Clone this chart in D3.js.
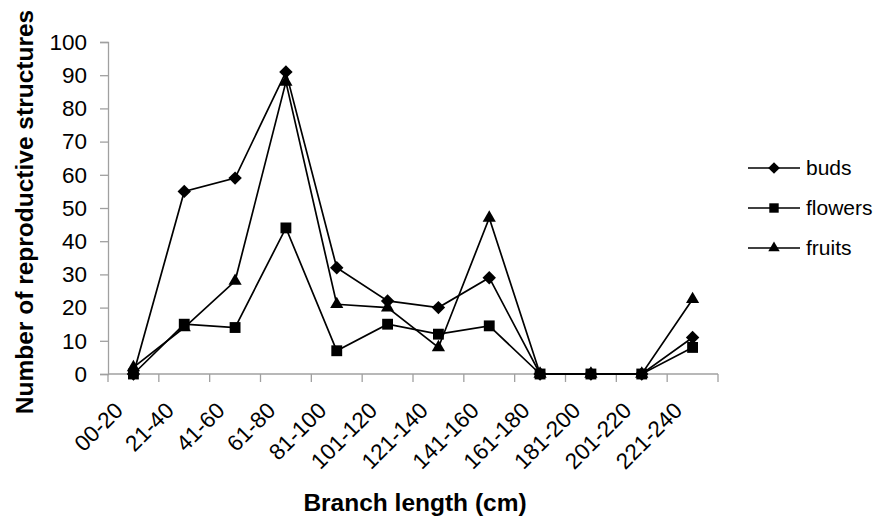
<!DOCTYPE html>
<html>
<head>
<meta charset="utf-8">
<script src="https://cdn.jsdelivr.net/npm/d3@7"></script>
<style>
  body { margin: 0; background: #fff; }
  text { font-family: "Liberation Sans", Arial, sans-serif; }
</style>
</head>
<body>
<div id="chart"></div>
<script>
// Data
const categories = ["00-20", "21-40", "41-60", "61-80", "81-100", "101-120", "121-140",
  "141-160", "161-180", "181-200", "201-220", "221-240"];
const buds = [0, 55, 59, 91, 32, 22, 20, 29, 0, 0, 0, 11];
const flowers = [0, 15, 14, 44, 7, 15, 12, 14.5, 0, 0, 0, 8];
const fruits = [2, 14, 28, 88, 21, 20, 8, 47, 0, 0, 0, 22.5];
const yTicks = [0, 10, 20, 30, 40, 50, 60, 70, 80, 90, 100];

const series = [
  { name: "buds", values: buds, symbol: d3.symbolDiamond2, size: 115 },
  { name: "flowers", values: flowers, symbol: d3.symbolSquare2, size: 150 },
  { name: "fruits", values: fruits, symbol: d3.symbolTriangle2, size: 125 }
];

const width = 881;
const height = 522;
const marginLeft = 108;
const marginRight = 163;
const marginTop = 42;
const marginBottom = 148;

const x = d3.scaleBand()
    .domain(categories)
    .range([marginLeft, width - marginRight]);

const y = d3.scaleLinear()
    .domain([0, 100])
    .range([height - marginBottom, marginTop]);

const svg = d3.select("#chart")
    .append("svg")
    .attr("width", width)
    .attr("height", height)
    .attr("viewBox", [0, 0, width, height]);

// y axis
const yAxis = svg.append("g")
    .attr("transform", `translate(${marginLeft},0)`)
    .call(d3.axisLeft(y).tickValues(yTicks).tickSize(8).tickPadding(13));
yAxis.selectAll("line, path").attr("stroke", "#a0a0a0").attr("stroke-width", 1.3);
yAxis.selectAll("text").attr("font-size", 22.5).attr("fill", "#000")
    .style("font-family", "Liberation Sans, Arial, sans-serif");

// x axis: ticks at category boundaries
const xAxis = svg.append("g")
    .attr("transform", `translate(0,${y(0)})`);
xAxis.append("line")
    .attr("x1", marginLeft).attr("x2", width - marginRight)
    .attr("stroke", "#a0a0a0").attr("stroke-width", 1.3);
xAxis.selectAll(".tk")
    .data(categories.concat([null]))
    .join("line")
    .attr("class", "tk")
    .attr("x1", (d, i) => marginLeft + i * x.bandwidth())
    .attr("x2", (d, i) => marginLeft + i * x.bandwidth())
    .attr("y1", 0).attr("y2", 8)
    .attr("stroke", "#a0a0a0").attr("stroke-width", 1.3);
xAxis.selectAll(".lbl")
    .data(categories)
    .join("text")
    .attr("class", "lbl")
    .attr("text-anchor", "end")
    .attr("font-size", 22.5)
    .attr("transform", d => `translate(${x(d) + x.bandwidth() / 2 - 9},${38}) rotate(-45)`)
    .text(d => d);

// lines and markers
const line = d3.line()
    .x((d, i) => x(categories[i]) + x.bandwidth() / 2)
    .y(d => y(d));

series.forEach(s => {
  svg.append("path")
      .attr("d", line(s.values))
      .attr("fill", "none")
      .attr("stroke", "#000")
      .attr("stroke-width", 1.7);
});

series.forEach(s => {
  svg.append("g").selectAll("path")
      .data(s.values)
      .join("path")
      .attr("d", d3.symbol().type(s.symbol).size(s.size))
      .attr("transform", (d, i) => `translate(${x(categories[i]) + x.bandwidth() / 2},${y(d)})`)
      .attr("fill", "#000");
});

// legend
const legend = svg.append("g");
series.forEach((s, i) => {
  const ly = 168 + i * 40;
  legend.append("line")
      .attr("x1", 748).attr("x2", 800)
      .attr("y1", ly).attr("y2", ly)
      .attr("stroke", "#000").attr("stroke-width", 1.7);
  legend.append("path")
      .attr("d", d3.symbol().type(s.symbol).size(s.size * 0.75))
      .attr("transform", `translate(774,${ly})`);
  legend.append("text")
      .attr("x", 806).attr("y", ly)
      .attr("dy", "0.35em")
      .attr("font-size", 21)
      .text(s.name);
});

// axis titles
svg.append("text")
    .attr("x", 415).attr("y", 511)
    .attr("text-anchor", "middle")
    .attr("font-size", 24.5)
    .attr("font-weight", "bold")
    .text("Branch length (cm)");

svg.append("text")
    .attr("transform", `translate(33,212) rotate(-90)`)
    .attr("text-anchor", "middle")
    .attr("font-size", 24.5)
    .attr("font-weight", "bold")
    .text("Number of reproductive structures");
</script>
</body>
</html>
